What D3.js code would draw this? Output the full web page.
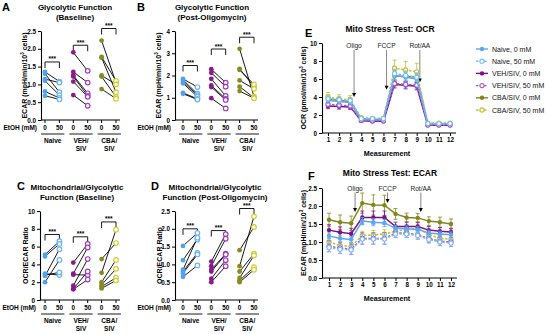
<!DOCTYPE html>
<html>
<head>
<meta charset="utf-8">
<script src="https://cdn.jsdelivr.net/npm/d3@7"></script>
<style>
  body { margin: 0; background: #fff; }
  svg { display: block; font-family: "Liberation Sans", Arial, sans-serif; }
</style>
</head>
<body>
<svg id="fig" width="550" height="334"></svg>
<script>
// --- Data ---
const GROUPS = ["Naive", "VEH/SIV", "CBA/SIV"];
const GROUP_LABELS = [["Naive"], ["VEH/", "SIV"], ["CBA/", "SIV"]];
const DOSES = ["0", "50"];

// paired values per animal: [0 mM, 50 mM]
const ecarBaseNaive = [[1.35, 1.08], [1.30, 0.78], [1.15, 1.05], [1.10, 0.70], [0.80, 0.62], [0.68, 0.58]];
const ecarBaseVeh   = [[1.90, 1.38], [1.35, 1.05], [1.25, 0.75], [1.22, 0.68], [1.08, 0.65], [0.70, 0.40]];
const ecarBaseCba   = [[2.23, 1.05], [1.77, 1.10], [1.75, 0.78], [1.25, 1.00], [1.22, 0.65], [0.87, 0.60]];

const ecarOligoNaive = [[1.85, 1.48], [1.80, 1.18], [1.72, 1.12], [1.65, 1.05], [1.22, 0.95], [1.18, 0.92]];
const ecarOligoVeh   = [[2.28, 1.68], [2.12, 1.50], [1.85, 1.08], [1.55, 0.95], [1.48, 0.90], [0.98, 0.52]];
const ecarOligoCba   = [[3.20, 1.05], [2.30, 1.50], [2.25, 1.60], [1.78, 1.40], [1.50, 1.00], [1.30, 0.98]];

const ratioBaseNaive = [[5.1, 6.6], [4.9, 6.3], [2.95, 2.8], [2.8, 3.1], [2.7, 5.7], [2.0, 4.5]];
const ratioBaseVeh   = [[4.2, 6.3], [2.95, 5.9], [2.85, 2.8], [1.6, 4.6], [1.25, 3.2], [1.2, 2.3]];
const ratioBaseCba   = [[4.6, 6.4], [3.05, 7.9], [2.0, 4.5], [1.7, 3.5], [1.5, 2.5], [1.3, 2.2]];

const ratioOligoNaive = [[1.52, 1.88], [1.12, 1.70], [0.85, 1.75], [0.80, 1.32], [0.75, 1.28], [0.65, 0.97]];
const ratioOligoVeh   = [[1.08, 1.85], [0.95, 1.72], [0.85, 1.30], [0.80, 1.28], [0.60, 1.12], [0.50, 0.95]];
const ratioOligoCba   = [[1.40, 2.05], [0.95, 2.35], [0.80, 1.30], [0.62, 1.25], [0.55, 0.92], [0.50, 0.85]];

// significance bracket heights (data units) per group
const bracketsA = [1.63, 2.10, 2.57];
const bracketsB = [2.45, 3.19, 3.72];
const bracketsC = [7.36, 7.10, 8.77];
const bracketsD = [2.00, 1.95, 2.57];

// Mito stress test time courses (measurements 1..12)
const MEASUREMENTS = d3.range(1, 13);
const SERIES_NAMES = ["Naive, 0 mM", "Naive, 50 mM", "VEH/SIV, 0 mM", "VEH/SIV, 50 mM", "CBA/SIV, 0 mM", "CBA/SIV, 50 mM"];

const ocrNaive0 = [3.6, 3.5, 3.4, 1.5, 1.5, 1.5, 6.4, 6.2, 6.0, 1.0, 1.0, 1.0];
const ocrNaive50 = [3.8, 3.7, 3.6, 1.6, 1.6, 1.6, 6.6, 6.4, 6.2, 1.05, 1.05, 1.05];
const ocrVeh0 = [3.0, 2.95, 2.9, 1.35, 1.3, 1.3, 5.4, 5.3, 5.2, 0.85, 0.85, 0.85];
const ocrVeh50 = [3.2, 3.1, 3.0, 1.4, 1.35, 1.35, 5.5, 5.4, 5.3, 0.9, 0.9, 0.9];
const ocrCba0 = [3.8, 3.6, 3.5, 1.6, 1.5, 1.5, 6.3, 6.3, 6.2, 1.0, 1.0, 1.0];
const ocrCba50 = [4.0, 3.8, 3.7, 1.7, 1.6, 1.6, 7.2, 7.0, 6.8, 1.1, 1.1, 1.1];
const ocrErr = [
  [0.3, 0.3, 0.3, 0.15, 0.15, 0.15, 0.5, 0.5, 0.5, 0.1, 0.1, 0.1],
  [0.3, 0.3, 0.3, 0.15, 0.15, 0.15, 0.5, 0.5, 0.5, 0.1, 0.1, 0.1],
  [0.3, 0.3, 0.3, 0.15, 0.15, 0.15, 0.4, 0.4, 0.4, 0.1, 0.1, 0.1],
  [0.3, 0.3, 0.3, 0.15, 0.15, 0.15, 0.4, 0.4, 0.4, 0.1, 0.1, 0.1],
  [0.4, 0.4, 0.4, 0.2, 0.2, 0.2, 0.6, 0.6, 0.6, 0.15, 0.15, 0.15],
  [0.5, 0.45, 0.45, 0.2, 0.2, 0.2, 0.9, 0.95, 0.95, 0.15, 0.15, 0.15]
];

const ecarNaive0 = [1.17, 1.10, 1.07, 1.58, 1.55, 1.53, 1.38, 1.37, 1.35, 1.25, 1.22, 1.20];
const ecarNaive50 = [0.85, 0.80, 0.78, 1.08, 1.08, 1.08, 1.22, 1.22, 1.18, 1.07, 1.00, 0.97];
const ecarVeh0 = [1.33, 1.27, 1.23, 1.68, 1.68, 1.68, 1.43, 1.43, 1.43, 1.33, 1.30, 1.28];
const ecarVeh50 = [0.88, 0.83, 0.80, 1.10, 1.10, 1.10, 1.25, 1.25, 1.20, 1.10, 1.02, 1.00];
const ecarCba0 = [1.62, 1.55, 1.52, 2.08, 2.03, 2.02, 1.78, 1.68, 1.67, 1.58, 1.55, 1.50];
const ecarCba50 = [1.00, 0.90, 0.88, 1.18, 1.20, 1.22, 1.30, 1.35, 1.38, 1.20, 1.10, 1.08];
const ecarErr = [
  [0.08, 0.08, 0.08, 0.1, 0.1, 0.1, 0.08, 0.08, 0.08, 0.08, 0.08, 0.08],
  [0.12, 0.12, 0.12, 0.14, 0.14, 0.14, 0.1, 0.1, 0.1, 0.1, 0.1, 0.1],
  [0.15, 0.15, 0.15, 0.18, 0.18, 0.18, 0.12, 0.12, 0.12, 0.1, 0.1, 0.1],
  [0.15, 0.15, 0.15, 0.16, 0.16, 0.16, 0.12, 0.12, 0.12, 0.12, 0.12, 0.12],
  [0.18, 0.2, 0.2, 0.28, 0.28, 0.28, 0.15, 0.12, 0.12, 0.12, 0.14, 0.14],
  [0.1, 0.1, 0.1, 0.12, 0.12, 0.12, 0.12, 0.12, 0.12, 0.1, 0.1, 0.1]
];

const INJECTIONS = ["Oligo", "FCCP", "Rot/AA"];
const INJECTION_AT = [3.35, 6.28, 9.28];

// --- Colours ---
const FILL_COLORS = ["#4da3ee", "#8b1a8b", "#878a1c"];
const OPEN_COLORS = ["#6ab4f5", "#a23cc0", "#cfcf30"];
const SERIES_COLORS = ["#5aa9f0", "#7dbcf5", "#7d0f88", "#a855c8", "#83861a", "#c2c22a"];

const svg = d3.select("#fig");

function styleAxis(sel) {
  sel.select(".domain").attr("stroke", "#000").attr("stroke-width", 1.1);
  sel.selectAll(".tick line").attr("stroke", "#000").attr("stroke-width", 1);
  sel.selectAll(".tick text")
    .attr("font-size", 6.3).attr("font-weight", "bold")
    .attr("font-family", "'Liberation Sans', Arial, sans-serif").attr("fill", "#000");
}

function yLabel(g, x, cy, before, sup, after) {
  const t = g.append("text")
    .attr("transform", `translate(${x},${cy}) rotate(-90)`)
    .attr("text-anchor", "middle")
    .attr("font-size", 7).attr("font-weight", "bold");
  t.append("tspan").text(before);
  if (sup) {
    t.append("tspan").attr("font-size", 4.5).attr("dy", -3).text(sup);
    t.append("tspan").attr("dy", 3).text(after);
  }
}

function heading(g, letter, lx, ly, lines, cx, y1) {
  g.append("text").attr("x", lx).attr("y", ly)
    .attr("font-size", 11).attr("font-weight", "bold").text(letter);
  lines.forEach((ln, i) => {
    g.append("text").attr("x", cx).attr("y", y1 + i * 10)
      .attr("text-anchor", "middle").attr("font-size", 8).attr("font-weight", "bold").text(ln);
  });
}

// --- Paired dot panels (A-D) ---
function pairedPanel(o) {
  const g = svg.append("g");
  const y = d3.scaleLinear().domain([0, o.yMax]).range([o.y0, o.yTop]);
  const gx = d3.scalePoint().domain(GROUPS).range([o.px, o.px + 56.6]);
  const dx = d3.scalePoint().domain(DOSES).range([0, 14.4]);

  heading(g, o.letter, o.lx, o.ly, o.title, o.tcx, o.ty);

  g.append("g").attr("transform", `translate(${o.ax},0)`)
    .call(d3.axisLeft(y).tickValues(o.ticks).tickFormat(o.fmt).tickSize(3).tickSizeOuter(0).tickPadding(2))
    .call(styleAxis);

  const xEnd = gx(GROUPS[2]) + dx("50") + 4;
  g.append("line").attr("x1", o.ax).attr("x2", xEnd).attr("y1", o.y0).attr("y2", o.y0)
    .attr("stroke", "#000").attr("stroke-width", 1.1);

  g.append("text").attr("x", o.ax - 4).attr("y", o.y0 + 10)
    .attr("text-anchor", "end").attr("font-size", 6.5).attr("font-weight", "bold").text("EtOH  (mM)");

  GROUPS.forEach((grp, gi) => {
    DOSES.forEach(d => {
      const xx = gx(grp) + dx(d);
      g.append("line").attr("x1", xx).attr("x2", xx).attr("y1", o.y0).attr("y2", o.y0 + 3)
        .attr("stroke", "#000");
      g.append("text").attr("x", xx).attr("y", o.y0 + 10)
        .attr("text-anchor", "middle").attr("font-size", 6.3).attr("font-weight", "bold").text(d);
    });
    const x0 = gx(grp) + dx("0"), x1 = gx(grp) + dx("50");
    g.append("line").attr("x1", x0 - 4).attr("x2", x1 + 5)
      .attr("y1", o.y0 + 14).attr("y2", o.y0 + 14).attr("stroke", "#000").attr("stroke-width", 0.9);
    GROUP_LABELS[gi].forEach((ln, li) => {
      g.append("text").attr("x", (x0 + x1) / 2 + 0.5).attr("y", o.y0 + 22.5 + li * 8)
        .attr("text-anchor", "middle").attr("font-size", 6.5).attr("font-weight", "bold").text(ln);
    });

    // bracket
    const yb = y(o.brackets[gi]);
    g.append("path")
      .attr("d", `M${x0},${yb + 6}V${yb}H${x1}V${yb + 6}`)
      .attr("fill", "none").attr("stroke", "#000").attr("stroke-width", 0.9);
    g.append("text").attr("x", (x0 + x1) / 2).attr("y", yb - 0.5)
      .attr("text-anchor", "middle").attr("font-size", 6.5).attr("font-weight", "bold").text("***");

    const pairs = o.data[gi];
    g.append("g").selectAll("line").data(pairs).join("line")
      .attr("x1", x0).attr("x2", x1)
      .attr("y1", d => y(d[0])).attr("y2", d => y(d[1]))
      .attr("stroke", "#000").attr("stroke-width", 0.9);
    g.append("g").selectAll("circle").data(pairs).join("circle")
      .attr("cx", x0).attr("cy", d => y(d[0])).attr("r", 2.4)
      .attr("fill", FILL_COLORS[gi]);
    g.append("g").selectAll("circle").data(pairs).join("circle")
      .attr("cx", x1).attr("cy", d => y(d[1])).attr("r", 2.3)
      .attr("fill", "#fff").attr("stroke", OPEN_COLORS[gi]).attr("stroke-width", 1.2);
  });

  yLabel(g, o.ylx, (o.y0 + o.yTop) / 2, ...o.ylabel);
}

pairedPanel({
  letter: "A", lx: 2, ly: 11, title: ["Glycolytic Function", "(Baseline)"], tcx: 75, ty: 10,
  ax: 41, px: 45, y0: 120, yTop: 31, yMax: 2.5, ticks: d3.range(0, 2.51, 0.5), fmt: d3.format(".1f"),
  data: [ecarBaseNaive, ecarBaseVeh, ecarBaseCba], brackets: bracketsA,
  ylx: 27, ylabel: ["ECAR (mpH/min/10", "3", " cells)"]
});
pairedPanel({
  letter: "B", lx: 137, ly: 11, title: ["Glycolytic Function", "(Post-Oligomycin)"], tcx: 212, ty: 10,
  ax: 175, px: 183, y0: 120, yTop: 31, yMax: 4, ticks: [0, 1, 2, 3, 4], fmt: d3.format("d"),
  data: [ecarOligoNaive, ecarOligoVeh, ecarOligoCba], brackets: bracketsB,
  ylx: 161, ylabel: ["ECAR (mpH/min/10", "3", " cells)"]
});
pairedPanel({
  letter: "C", lx: 17, ly: 190, title: ["Mitochondrial/Glycolytic", "Function (Baseline)"], tcx: 77, ty: 190,
  ax: 40, px: 45, y0: 300, yTop: 211, yMax: 10, ticks: [0, 2, 4, 6, 8, 10], fmt: d3.format("d"),
  data: [ratioBaseNaive, ratioBaseVeh, ratioBaseCba], brackets: bracketsC,
  ylx: 28, ylabel: ["OCR/ECAR Ratio"]
});
pairedPanel({
  letter: "D", lx: 151, ly: 190, title: ["Mitochondrial/Glycolytic", "Function (Post-Oligomycin)"], tcx: 215, ty: 190,
  ax: 175, px: 183, y0: 300, yTop: 211, yMax: 2.5, ticks: d3.range(0, 2.51, 0.5), fmt: d3.format(".1f"),
  data: [ratioOligoNaive, ratioOligoVeh, ratioOligoCba], brackets: bracketsD,
  ylx: 162, ylabel: ["OCR/ECAR Ratio"]
});

// --- Time course panels (E, F) ---
function timePanel(o) {
  const g = svg.append("g");
  const x = d3.scaleLinear().domain([1, 12]).range([o.x1, o.x12]);
  const y = d3.scaleLinear().domain([0, o.yMax]).range([o.y0, o.yTop]);

  g.append("text").attr("x", o.lx).attr("y", o.ly)
    .attr("font-size", 11).attr("font-weight", "bold").text(o.letter);
  g.append("text").attr("x", 390).attr("y", o.ty)
    .attr("text-anchor", "middle").attr("font-size", 8.5).attr("font-weight", "bold").text(o.title);

  g.append("g").attr("transform", `translate(${o.ax},0)`)
    .call(d3.axisLeft(y).tickValues(o.ticks).tickFormat(o.fmt).tickSize(3).tickSizeOuter(0).tickPadding(2))
    .call(styleAxis);
  g.append("line").attr("x1", o.ax).attr("x2", o.x12 + 6).attr("y1", o.y0).attr("y2", o.y0)
    .attr("stroke", "#000").attr("stroke-width", 1.1);
  g.append("g").attr("transform", `translate(0,${o.y0})`)
    .call(d3.axisBottom(x).tickValues(MEASUREMENTS).tickFormat(d3.format("d")).tickSize(3).tickSizeOuter(0).tickPadding(2))
    .call(styleAxis)
    .call(s => s.select(".domain").remove());
  g.append("text").attr("x", 387).attr("y", o.y0 + 22.5)
    .attr("text-anchor", "middle").attr("font-size", 7.2).attr("font-weight", "bold").text("Measurement");

  yLabel(g, o.ylx, (o.y0 + o.yTop) / 2, ...o.ylabel);

  // injection arrows
  INJECTIONS.forEach((name, i) => {
    const xx = x(INJECTION_AT[i]);
    const tip = y(o.tips[i]);
    g.append("text").attr("x", xx).attr("y", o.annY)
      .attr("text-anchor", "middle").attr("font-size", 6.6).attr("fill", "#222").text(name);
    g.append("line").attr("x1", xx).attr("x2", xx).attr("y1", o.annY + 2).attr("y2", tip - 3)
      .attr("stroke", "#666").attr("stroke-width", 0.8);
    g.append("path").attr("d", `M${xx - 2},${tip - 4}L${xx + 2},${tip - 4}L${xx},${tip}Z`).attr("fill", "#000");
  });

  const line = d3.line().x((d, i) => x(MEASUREMENTS[i])).y(d => y(d));
  const order = [4, 5, 2, 3, 0, 1];
  order.forEach(si => {
    const vals = o.series[si];
    const err = o.errors[si];
    const c = SERIES_COLORS[si];
    const dashed = si % 2 === 1;
    const eg = g.append("g");
    eg.selectAll("path.err").data(vals).join("path").attr("class", "err")
      .attr("d", (d, i) => {
        const xx = x(MEASUREMENTS[i]), yh = y(d + err[i]), yl = y(d - err[i]);
        return `M${xx},${yl}V${yh}M${xx - 2},${yh}H${xx + 2}M${xx - 2},${yl}H${xx + 2}`;
      })
      .attr("stroke", c).attr("stroke-width", 0.8).attr("fill", "none");
    g.append("path").datum(vals).attr("d", line)
      .attr("fill", "none").attr("stroke", c).attr("stroke-width", 1.5)
      .attr("stroke-dasharray", dashed ? "2.5,1.5" : null);
    g.append("g").selectAll("circle").data(vals).join("circle")
      .attr("cx", (d, i) => x(MEASUREMENTS[i])).attr("cy", d => y(d))
      .attr("r", dashed ? 2.1 : 2.2)
      .attr("fill", dashed ? "#fff" : c)
      .attr("stroke", c).attr("stroke-width", dashed ? 1.1 : 0);
  });
}

timePanel({
  letter: "E", lx: 305, ly: 37, title: "Mito Stress Test: OCR", ty: 32,
  ax: 322, x1: 328, x12: 450, y0: 133, yTop: 43, yMax: 10, ticks: [0, 2, 4, 6, 8, 10], fmt: d3.format("d"),
  ylx: 305.5, ylabel: ["OCR (pmol/min/10", "3", " cells)"],
  series: [ocrNaive0, ocrNaive50, ocrVeh0, ocrVeh50, ocrCba0, ocrCba50], errors: ocrErr,
  annY: 48, tips: [4.0, 4.8, 5.6]
});
timePanel({
  letter: "F", lx: 308, ly: 180, title: "Mito Stress Test: ECAR", ty: 176,
  ax: 322, x1: 329, x12: 451, y0: 278, yTop: 188, yMax: 2.5, ticks: d3.range(0, 2.51, 0.5), fmt: d3.format(".1f"),
  ylx: 305.5, ylabel: ["ECAR (mpH/min/10", "3", " cells)"],
  series: [ecarNaive0, ecarNaive50, ecarVeh0, ecarVeh50, ecarCba0, ecarCba50], errors: ecarErr,
  annY: 190.5, tips: [1.83, 2.08, 1.83]
});

// --- Legend ---
const legend = svg.append("g");
SERIES_NAMES.forEach((name, i) => {
  const ly = 49 + i * 12.2;
  const c = SERIES_COLORS[i];
  const dashed = i % 2 === 1;
  legend.append("line").attr("x1", 476).attr("x2", 488).attr("y1", ly).attr("y2", ly)
    .attr("stroke", c).attr("stroke-width", 1.4).attr("stroke-dasharray", dashed ? "2.5,1.5" : null);
  legend.append("circle").attr("cx", 482).attr("cy", ly).attr("r", dashed ? 2.1 : 2.2)
    .attr("fill", dashed ? "#fff" : c).attr("stroke", c).attr("stroke-width", dashed ? 1.1 : 0);
  legend.append("text").attr("x", 492).attr("y", ly + 2.5)
    .attr("font-size", 7).attr("fill", "#111").text(name);
});
</script>
</body>
</html>
